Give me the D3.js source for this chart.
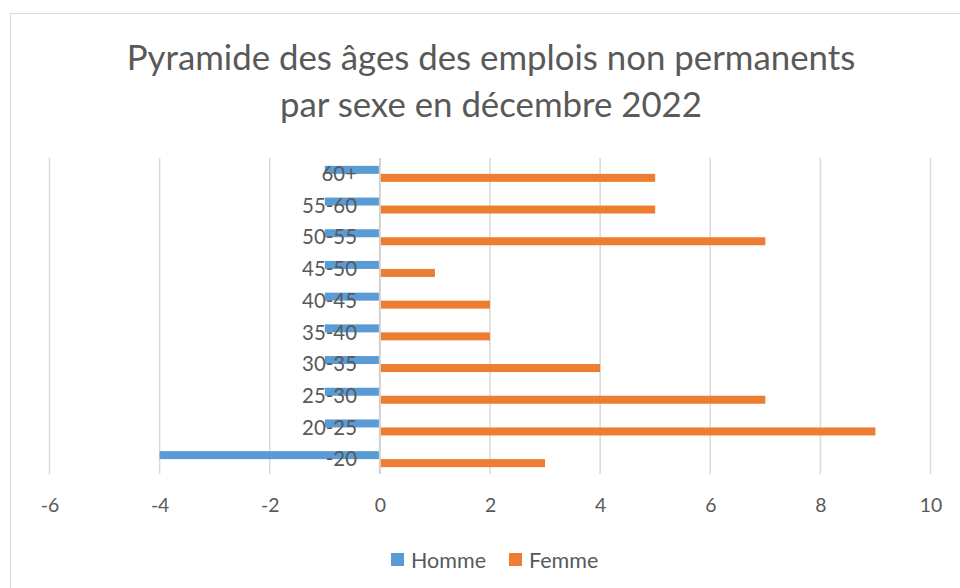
<!DOCTYPE html>
<html><head><meta charset="utf-8">
<script src="https://cdn.jsdelivr.net/npm/d3@7"></script>
<style>body{margin:0;background:#fff}svg{display:block}</style>
</head><body>
<svg id="c" width="960" height="588"></svg>
<script>
const categories = ["60+","55-60","50-55","45-50","40-45","35-40","30-35","25-30","20-25","-20"];
const homme = [-1,-1,-1,-1,-1,-1,-1,-1,-1,-4];
const femme = [5,5,7,1,2,2,4,7,9,3];
const seriesNames = ["Homme","Femme"];
const xTicks = [-6,-4,-2,0,2,4,6,8,10];
const titleLines = ["Pyramide des âges des emplois non permanents","par sexe en décembre 2022"];
const colors = {Homme:"#5B9BD5", Femme:"#ED7D31"};

const FONT = "Lato, 'Open Sans', sans-serif";
const TXT = "#595959";
const svg = d3.select("#c");

svg.append("rect").attr("x",10.5).attr("y",13.5).attr("width",980).attr("height",600)
  .attr("fill","#fff").attr("stroke","#d9d9d9").attr("stroke-width",1);

const x = d3.scaleLinear().domain([-6,10]).range([49.5,930.5]);
const y = d3.scaleBand().domain(categories).range([158,475]).paddingInner(0).paddingOuter(0);
const ys = d3.scaleBand().domain(seriesNames).range([y.bandwidth()/2-8, y.bandwidth()/2+8]);

// gridlines
svg.append("g").selectAll("line").data(xTicks).join("line")
  .attr("x1",d=>x(d)).attr("x2",d=>x(d)).attr("y1",158).attr("y2",474)
  .attr("stroke",d=>d===0?"#d0d0d0":"#d9d9d9").attr("stroke-width",d=>d===0?2:1.5);

// bars
const rows = categories.map((c,i)=>({c, Homme:homme[i], Femme:femme[i]}));
seriesNames.forEach(s=>{
  svg.append("g").selectAll("rect").data(rows).join("rect")
    .attr("x",d=>x(Math.min(0,d[s])) + (d[s]<0?0:1))
    .attr("width",d=>Math.abs(x(d[s])-x(0)) - 1)
    .attr("y",d=>y(d.c)+ys(s))
    .attr("height",ys.bandwidth())
    .attr("fill",colors[s]);
});

// category labels
const cl = svg.append("g").selectAll("text").data(categories).join("text")
  .attr("x",357).attr("y",d=>y(d)+y.bandwidth()/2).attr("dy","0.35em")
  .attr("text-anchor","end").attr("font-family",FONT).attr("font-size",20).attr("fill",TXT)
  .text(d=>d);
{
  const ref = cl.filter(d=>d==="55-60");
  const w = ref.node().getComputedTextLength();
  cl.attr("font-size",20*55/w);
}

// x axis tick labels
const xa = d3.axisBottom(x).tickValues(xTicks).tickSize(0).tickPadding(0).tickFormat(d=>String(d));
const gx = svg.append("g").attr("transform","translate(0,505)").call(xa);
gx.select(".domain").remove();
gx.selectAll("text").attr("font-family",FONT).attr("font-size",20).attr("fill",TXT).attr("dy","0.35em").attr("y",0);
{
  const t = gx.selectAll("text").filter(d=>d===10);
  const w = t.node().getComputedTextLength();
  gx.selectAll("text").attr("font-size",20*22.5/w);
}

// title
const tt = svg.append("g").selectAll("text").data(titleLines).join("text")
  .attr("x",491).attr("y",(d,i)=>58+i*47).attr("dy","0.35em").attr("text-anchor","middle")
  .attr("font-family",FONT).attr("font-size",30).attr("fill",TXT).text(d=>d);
{
  const w = tt.filter((d,i)=>i===0).node().getComputedTextLength();
  tt.attr("font-size",30*729/w);
}

// legend
const legX = {Homme:391, Femme:509};
const lg = svg.append("g").selectAll("g").data(seriesNames).join("g");
lg.append("rect").attr("x",d=>legX[d]).attr("y",553).attr("width",13).attr("height",13).attr("fill",d=>colors[d]);
const lt = lg.append("text").attr("x",d=>legX[d]+20).attr("y",560).attr("dy","0.35em")
  .attr("font-family",FONT).attr("font-size",20).attr("fill",TXT).text(d=>d);
{
  const w = lt.filter(d=>d==="Homme").node().getComputedTextLength();
  lt.attr("font-size",20*75/w);
}
</script>
</body></html>
